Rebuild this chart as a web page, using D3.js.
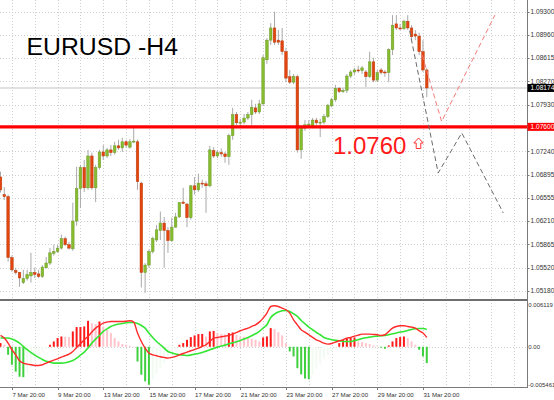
<!DOCTYPE html>
<html><head><meta charset="utf-8">
<script src="https://cdn.jsdelivr.net/npm/d3@7"></script>
<style>body{margin:0;background:#fff}svg{display:block}</style>
</head><body>
<svg id="c" width="554" height="400"></svg>
<script>
// ---------- DATA (EURUSD H4, bar 0 = 7 Mar 08:00) ----------
const opens  = [1.0686,1.0660,1.0657,1.0567,1.0548,1.0545,1.0530,1.0536,1.0540,1.0545,1.0543,1.0539,1.0552,1.0559,1.0573,1.0576,1.0581,1.0595,1.0586,1.0580,
1.0621,1.0669,1.0700,1.0670,1.0717,1.0670,1.0700,1.0723,1.0717,1.0726,1.0722,1.0732,1.0729,1.0738,1.0730,1.0738,1.0738,1.0677,1.0545,1.0556,
1.0576,1.0593,1.0607,1.0618,1.0607,1.0592,1.0612,1.0627,1.0649,1.0646,1.0626,1.0673,1.0667,1.0677,1.0676,1.0673,1.0725,1.0717,1.0722,1.0720,
1.0716,1.0747,1.0778,1.0766,1.0767,1.0773,1.0778,1.0788,1.0782,1.0794,1.0859,1.0888,1.0906,1.0888,1.0887,1.0871,1.0834,1.0826,1.0834,1.0726,
1.0758,1.0763,1.0761,1.0770,1.0766,1.0767,1.0775,1.0791,1.0800,1.0817,1.0812,1.0814,1.0835,1.0841,1.0844,1.0843,1.0841,1.0834,1.0856,1.0829,
1.0844,1.0841,1.0840,1.0874,1.0912,1.0906,1.0905,1.0916,1.0906,1.0897,1.0894,1.0871,1.0844];
const highs  = [1.0694,1.0671,1.0660,1.0570,1.0552,1.0546,1.0549,1.0549,1.0574,1.0552,1.0549,1.0556,1.0568,1.0581,1.0586,1.0586,1.0601,1.0598,1.0590,1.0648,
1.0701,1.0704,1.0711,1.0726,1.0722,1.0704,1.0726,1.0733,1.0729,1.0733,1.0738,1.0741,1.0744,1.0741,1.0742,1.0758,1.0741,1.0679,1.0559,1.0579,
1.0598,1.0615,1.0635,1.0627,1.0612,1.0626,1.0633,1.0649,1.0670,1.0648,1.0674,1.0686,1.0691,1.0682,1.0680,1.0732,1.0730,1.0726,1.0728,1.0723,
1.0750,1.0788,1.0782,1.0772,1.0779,1.0782,1.0800,1.0794,1.0800,1.0866,1.0891,1.0913,1.0930,1.0903,1.0906,1.0876,1.0844,1.0838,1.0837,1.0761,
1.0770,1.0770,1.0773,1.0773,1.0772,1.0779,1.0794,1.0803,1.0822,1.0819,1.0817,1.0838,1.0844,1.0847,1.0850,1.0850,1.0844,1.0871,1.0862,1.0844,
1.0847,1.0844,1.0876,1.0925,1.0925,1.0912,1.0918,1.0925,1.0910,1.0903,1.0899,1.0888,1.0847];
const lows   = [1.0663,1.0652,1.0561,1.0546,1.0542,1.0524,1.0528,1.0533,1.0530,1.0537,1.0537,1.0537,1.0551,1.0556,1.0570,1.0574,1.0579,1.0584,1.0579,1.0577,
1.0614,1.0640,1.0664,1.0667,1.0667,1.0649,1.0697,1.0711,1.0714,1.0717,1.0719,1.0726,1.0723,1.0729,1.0728,1.0736,1.0667,1.0523,1.0515,1.0552,
1.0573,1.0590,1.0593,1.0552,1.0574,1.0590,1.0611,1.0626,1.0646,1.0612,1.0623,1.0660,1.0664,1.0670,1.0633,1.0671,1.0714,1.0714,1.0716,1.0707,
1.0704,1.0741,1.0763,1.0761,1.0764,1.0770,1.0763,1.0779,1.0779,1.0791,1.0853,1.0881,1.0881,1.0881,1.0866,1.0826,1.0823,1.0823,1.0722,1.0713,
1.0754,1.0758,1.0758,1.0763,1.0745,1.0764,1.0773,1.0789,1.0797,1.0810,1.0810,1.0810,1.0832,1.0837,1.0840,1.0838,1.0819,1.0832,1.0826,1.0826,
1.0837,1.0834,1.0826,1.0866,1.0903,1.0903,1.0903,1.0903,1.0888,1.0888,1.0866,1.0841,1.0804];
const closes = [1.0667,1.0657,1.0567,1.0549,1.0545,1.0537,1.0536,1.0542,1.0545,1.0542,1.0539,1.0553,1.0559,1.0574,1.0576,1.0581,1.0595,1.0586,1.0581,1.0621,
1.0669,1.0700,1.0670,1.0717,1.0670,1.0700,1.0723,1.0717,1.0726,1.0722,1.0732,1.0729,1.0738,1.0733,1.0738,1.0739,1.0679,1.0545,1.0556,1.0576,
1.0595,1.0608,1.0618,1.0607,1.0592,1.0612,1.0627,1.0648,1.0647,1.0626,1.0673,1.0667,1.0677,1.0676,1.0673,1.0726,1.0717,1.0722,1.0720,1.0716,
1.0747,1.0778,1.0766,1.0767,1.0773,1.0778,1.0789,1.0782,1.0794,1.0862,1.0888,1.0906,1.0885,1.0885,1.0871,1.0832,1.0826,1.0834,1.0726,1.0758,
1.0763,1.0764,1.0770,1.0766,1.0767,1.0775,1.0792,1.0800,1.0817,1.0812,1.0814,1.0835,1.0841,1.0844,1.0843,1.0847,1.0834,1.0856,1.0829,1.0840,
1.0840,1.0840,1.0874,1.0910,1.0906,1.0905,1.0916,1.0906,1.0893,1.0894,1.0871,1.0844,1.08174];

// MACD indicator values, in units of 0.0001
const macdLine = [16.4,12.6,5.3,-4.3,-11.6,-20.3,-23.6,-25.1,-26,-27,-27,-26,-23.6,-21.3,-19.3,-17.4,-15,-13,-10.6,-6.8,
-1,4.3,10.1,14.9,21.3,27,30.8,34.3,35.7,36.6,36.6,36.6,36.6,37,37.6,35.7,19.8,7.7,-1.9,-9.1,
-11.6,-13,-14.5,-15.4,-16.4,-15.4,-14,-11.6,-9.7,-7.7,-5.8,-3.9,-1.9,0.5,2.9,7.7,12.6,13.5,14.5,15.4,
16.4,18.3,20.7,23.2,25.1,27,29.4,31.8,35.7,41.5,48.8,58.3,59.4,58.3,56,53.6,48.8,39.1,31.8,24.6,
21.3,17.4,13.5,10.1,7.7,5.3,3.9,4.8,6.8,8.7,10.1,12.6,13.5,15.4,16.9,18.3,18.3,18.3,17.8,17.4,
16.4,17.4,22.2,27,29.4,30.4,30.4,29.4,28.5,27,23.2,19.8,13.5];
const signalLine = [12.6,12.6,12.6,11.1,8.7,5.3,0.5,-4.3,-8.2,-12.1,-15.4,-18.3,-20.8,-22.2,-23.6,-23.6,-23.6,-23.2,-21.7,-19.8,
-16.4,-12.1,-7.7,-1.9,5.3,11.1,16.4,22.2,26,29.4,31.4,32.9,33.7,34.7,35.2,35.2,33.7,30.8,27,19.8,
13.5,7.7,2.9,-1.9,-6.8,-8.7,-10.6,-11.6,-12.1,-12.6,-12.1,-10.6,-9.7,-8.2,-6.3,-4.3,-2.4,-0.5,1,2.4,
4.3,5.8,7.2,9.2,11.1,13.5,15.9,18.8,22.2,27,31.8,42.4,47.3,50.2,52.1,52.6,51.1,47.8,43.9,38.1,
33.3,28.5,24.6,20.7,17.4,13.5,11.6,10.1,9.2,8.7,7.7,7.7,7.7,9.2,10.1,12.1,13,14,14.9,15.4,
15.9,16.4,17.4,18.8,19.8,21.3,22.2,23.6,25.1,26,26.5,26.5,25.1];
const histogram = [5.4,2.9,-11.6,-26,-36,-43.4,-44,-38,-30,-22,-14,-8,-3,2.9,7.7,12.6,14.9,14.5,14.0,22.2,
28.5,28.6,29.4,37.6,34.3,32.9,36.6,29.4,24.6,19.8,12.6,7.7,3.9,2.9,1.4,0.5,-21.3,-40.5,-50,-55,
-47,-39,-31,-24,-17,-10,-4,2.9,5.3,10.1,14,16.4,18.4,18.6,14.9,22.2,22.9,19.8,18.4,18.0,
19.8,20.7,17.4,14.9,14.5,13.5,11.6,10.1,7.7,13.5,14.9,27,25.6,21.3,16.4,5.3,-6.8,-14,-31,-40,
-46,-47,-40,-32,-25,-18,-12,-7,-2,5.3,10.1,12.6,12.8,13.5,7.7,6.8,5.3,3.9,1.9,0.5,
-1.4,-2.9,2.0,7.7,12.6,14,14.9,12.6,7.7,2.9,-4.3,-14,-23.6];

const priceTicks = [1.09300,1.08960,1.08615,1.08270,1.07930,1.07600,1.07240,1.06895,1.06555,1.06210,1.05865,1.05520,1.05180];
const macdTickVals = [61.19, 0, -54.61];
const macdTickText = ["0.006119","0.00","-0.005461"];
const timeLabels = ["7 Mar 20:00","9 Mar 20:00","13 Mar 20:00","15 Mar 20:00","17 Mar 20:00","21 Mar 20:00","23 Mar 20:00","27 Mar 20:00","29 Mar 20:00","31 Mar 20:00"];
const timeLabelBars = [3,15,27,39,51,63,75,87,99,111];

const levelPrice = 1.0760, levelText = "1.0760";
const lastPrice = 1.08174;
// projected paths: [bar index, price]
const blackPath = [[107.5,1.0902],[115.0,1.0692],[121.2,1.0751],[132.1,1.0633]];
const redPath   = [[110.8,1.0866],[115.9,1.0768],[129.9,1.0925]];

// ---------- LAYOUT ----------
const svg = d3.select("#c");
const plotR = 527, mainTop = 0, mainBot = 299, indTop = 301, indBot = 387;
const x = d3.scaleLinear().domain([0,112]).range([0.5, 0.5+112*3.806]);
const y = d3.scaleLinear().domain([1.05180,1.09300]).range([290.8,11.7]);
const yi = d3.scaleLinear().domain([-54.61,61.19]).range([384.5,304.5]);
const font = "'Liberation Sans', Arial, sans-serif";

const defs = svg.append("defs");
defs.append("clipPath").attr("id","cm").append("rect").attr("x",0).attr("y",mainTop).attr("width",plotR).attr("height",mainBot-mainTop);
defs.append("clipPath").attr("id","ci").append("rect").attr("x",0).attr("y",indTop).attr("width",plotR).attr("height",indBot-indTop);

// grid
const grid = svg.append("g").attr("stroke","#cfcfcf").attr("stroke-width",1).attr("stroke-dasharray","1,2");
const vBars = d3.range(3, 136, 6);
grid.selectAll(".vg").data(vBars).enter().append("line")
  .attr("x1",d=>Math.round(x(d))+0.5).attr("x2",d=>Math.round(x(d))+0.5).attr("y1",0).attr("y2",indBot);
grid.selectAll(".hg").data(priceTicks).enter().append("line")
  .attr("x1",0).attr("x2",plotR).attr("y1",d=>Math.round(y(d))+0.5).attr("y2",d=>Math.round(y(d))+0.5);
grid.append("line").attr("x1",0).attr("x2",plotR).attr("y1",Math.round(yi(0))+0.5).attr("y2",Math.round(yi(0))+0.5);

// main panel
const gm = svg.append("g").attr("clip-path","url(#cm)");
gm.append("line").attr("x1",0).attr("x2",plotR).attr("y1",y(lastPrice)).attr("y2",y(lastPrice))
  .attr("stroke","#c4c4c4").attr("stroke-width",1.2);

const bars = d3.range(opens.length);
const bw = 2.6;
gm.selectAll(".wick").data(bars).enter().append("line")
  .attr("x1",i=>x(i)).attr("x2",i=>x(i)).attr("y1",i=>y(highs[i])).attr("y2",i=>y(lows[i]))
  .attr("stroke","#a9a9a9").attr("stroke-width",1);
gm.selectAll(".body").data(bars).enter().append("rect")
  .attr("x",i=>x(i)-bw/2).attr("width",bw)
  .attr("y",i=>y(Math.max(opens[i],closes[i])))
  .attr("height",i=>Math.max(1,Math.abs(y(opens[i])-y(closes[i]))))
  .attr("fill",i=>closes[i]>=opens[i]?"#86bd2e":"#e4440f")
  .attr("stroke",i=>closes[i]>=opens[i]?"#6e9a2a":"#b8400f").attr("stroke-width",0.5);

// support level
gm.append("line").attr("x1",0).attr("x2",plotR).attr("y1",y(levelPrice)).attr("y2",y(levelPrice))
  .attr("stroke","#ff0000").attr("stroke-width",3.2);

const lineGen = d3.line().x(d=>x(d[0])).y(d=>y(d[1]));
gm.append("path").attr("d",lineGen(blackPath)).attr("fill","none")
  .attr("stroke","#6b6b6b").attr("stroke-width",1).attr("stroke-dasharray","5,3");
gm.append("path").attr("d",lineGen(redPath)).attr("fill","none")
  .attr("stroke","#f47a7a").attr("stroke-width",1).attr("stroke-dasharray","5,3");

// texts
svg.append("text").attr("x",26.5).attr("y",55).attr("font-family",font).attr("font-size",24.8)
  .attr("fill","#000").text("EURUSD -H4");
svg.append("text").attr("x",333).attr("y",154).attr("font-family",font).attr("font-size",24)
  .attr("fill","#ff1a1a").text(levelText);
svg.append("path").attr("d","M418.5,138 L423.2,143 L420.8,143 L420.8,148.5 L416.2,148.5 L416.2,143 L413.8,143 Z")
  .attr("fill","#fff").attr("stroke","#ff3030").attr("stroke-width",1);

// indicator panel
const gi = svg.append("g").attr("clip-path","url(#ci)");
const hcol = (v,i) => {
  const p = i>0 ? histogram[i-1] : v;
  if (v>=0) return v>=p ? "#ff1a1a" : "#ffc4cc";
  return v<=p ? "#3fd03f" : "#f2fbf2";
};
gi.selectAll(".hb").data(bars).enter().append("rect")
  .attr("x",i=>x(i)-1).attr("width",2)
  .attr("y",i=>Math.min(yi(0),yi(histogram[i])))
  .attr("height",i=>Math.abs(yi(histogram[i])-yi(0)))
  .attr("fill",(i)=>hcol(histogram[i],i));
const lg = d3.line().x((d,i)=>x(i)).y(d=>yi(d)).curve(d3.curveMonotoneX);
gi.append("path").attr("d",lg(signalLine)).attr("fill","none").attr("stroke","#33e633").attr("stroke-width",1.6);
gi.append("path").attr("d",lg(macdLine)).attr("fill","none").attr("stroke","#ff2a2a").attr("stroke-width",1.4);

// frame
svg.append("line").attr("x1",0).attr("x2",plotR).attr("y1",300).attr("y2",300).attr("stroke","#6f6f6f").attr("stroke-width",2);
svg.append("line").attr("x1",plotR+0.5).attr("x2",plotR+0.5).attr("y1",0).attr("y2",indBot+0.5).attr("stroke","#7a7a7a").attr("stroke-width",1);
svg.append("line").attr("x1",0).attr("x2",plotR+1).attr("y1",indBot+0.5).attr("y2",indBot+0.5).attr("stroke","#7a7a7a").attr("stroke-width",1);

// price axis
const ax = svg.append("g").attr("font-family",font).attr("font-size",6.6).attr("fill","#333");
ax.selectAll(".pt").data(priceTicks).enter().append("text")
  .attr("x",530.5).attr("y",d=>y(d)+2.3).text(d=>d.toFixed(5));
svg.selectAll(".ptk").data(priceTicks).enter().append("line")
  .attr("x1",plotR).attr("x2",plotR+2.5).attr("y1",d=>Math.round(y(d))+0.5).attr("y2",d=>Math.round(y(d))+0.5)
  .attr("stroke","#7a7a7a");
ax.selectAll(".mt").data(macdTickVals).enter().append("text")
  .attr("x",528.3).attr("y",d=>yi(d)+2.2).attr("font-size",6.0).text((d,i)=>macdTickText[i]);

// price labels
function tag(p, bg, txt){
  svg.append("rect").attr("x",plotR+0.5).attr("y",y(p)-4).attr("width",554-plotR).attr("height",8).attr("fill",bg);
  svg.append("text").attr("x",530.5).attr("y",y(p)+2.3).attr("font-family",font).attr("font-size",6.6).attr("fill","#fff").text(txt);
}
tag(lastPrice,"#000","1.08174");
tag(levelPrice,"#ff0000","1.07600");

// time axis
const tx = svg.append("g").attr("font-family",font).attr("font-size",6.1).attr("fill","#333");
tx.selectAll(".tl").data(timeLabels).enter().append("text")
  .attr("x",(d,i)=>x(timeLabelBars[i])+0.5).attr("y",396.5).text(d=>d);
svg.selectAll(".tk").data(timeLabelBars).enter().append("line")
  .attr("x1",d=>Math.round(x(d))+0.5).attr("x2",d=>Math.round(x(d))+0.5).attr("y1",indBot).attr("y2",indBot+3)
  .attr("stroke","#7a7a7a");
</script>
</body></html>
